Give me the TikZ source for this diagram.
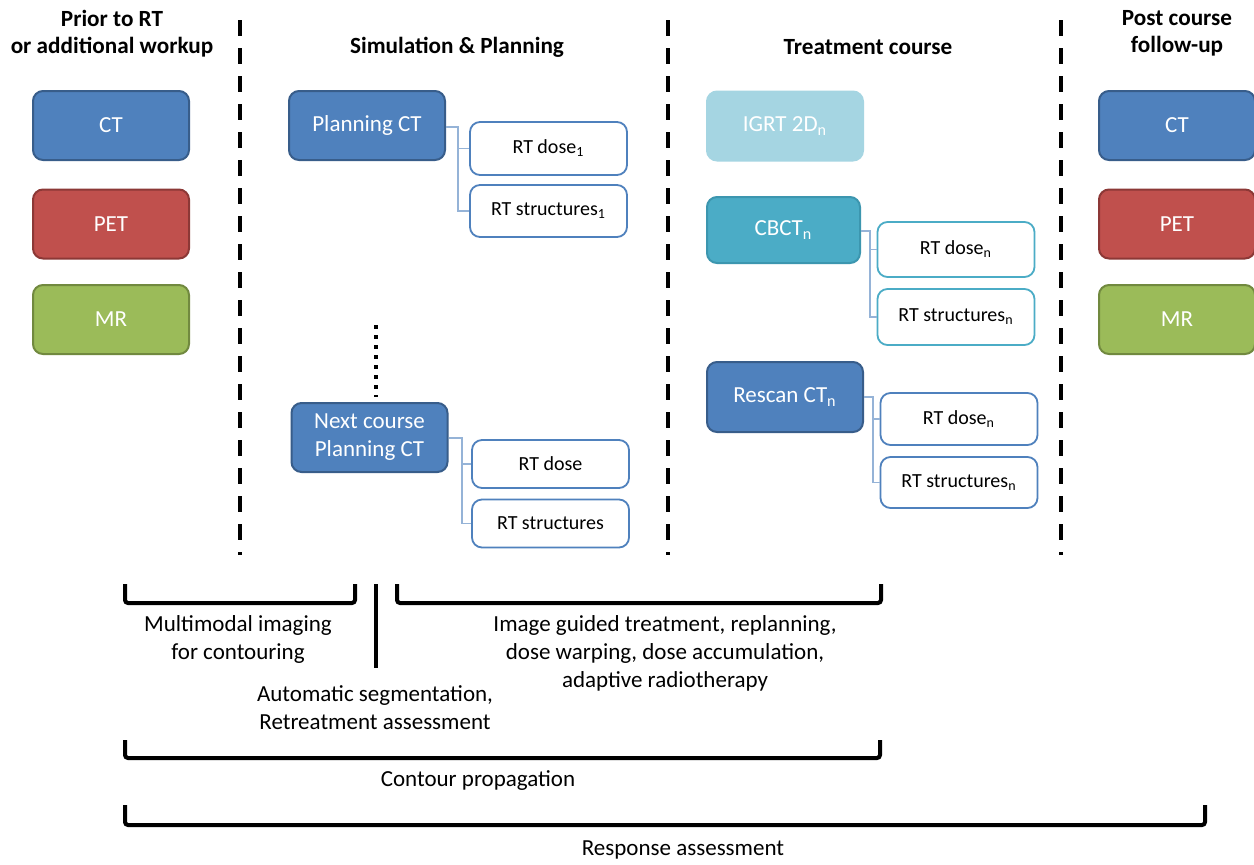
\documentclass[tikz,border=0pt]{standalone}
\usepackage{fontspec}
\setmainfont{Carlito}
\usetikzlibrary{calc}
\definecolor{cblue}{HTML}{4F81BD}
\definecolor{cblueD}{HTML}{385D8A}
\definecolor{cred}{HTML}{C0504D}
\definecolor{credD}{HTML}{8C3836}
\definecolor{cgreen}{HTML}{9BBB59}
\definecolor{cgreenD}{HTML}{71893F}
\definecolor{cltblue}{HTML}{A5D5E2}
\definecolor{cteal}{HTML}{4BACC6}
\definecolor{ctealD}{HTML}{3C96AF}
\definecolor{cconn}{HTML}{95B3D7}
\begin{document}
\begin{tikzpicture}[x=0.5pt,y=-0.5pt,
  txt/.style={font=\fontsize{11.5}{14}\selectfont, align=center, inner sep=0pt, yshift=-1pt},
  hdr/.style={font=\bfseries\fontsize{11.6}{13.5}\selectfont, align=center, inner sep=0pt, yshift=-1pt},
  cbox/.style={rounded corners=5pt, line width=1pt, text=white, minimum width=78pt, minimum height=34.5pt, align=center, inner sep=0pt, font=\fontsize{11.5}{14}\selectfont},
  bluebox/.style={cbox, fill=cblue, draw=cblueD},
  redbox/.style={cbox, fill=cred, draw=credD},
  greenbox/.style={cbox, fill=cgreen, draw=cgreenD},
  rtbox/.style={rounded corners=5pt, line width=0.9pt, draw=cblue, fill=white, minimum width=78.5pt, minimum height=26pt, inner sep=0pt, font=\fontsize{10}{12}\selectfont},
  rtboxt/.style={rtbox, draw=cteal},
  conn/.style={draw=cconn, line width=0.8pt},
  sep/.style={line width=2pt, dash pattern=on 8pt off 6pt},
  brk/.style={line width=2pt, rounded corners=1.5pt}
]
\useasboundingbox (0,0) rectangle (1254,864);
\fill[white] (0,0) rectangle (1254,864);

% headers
\node[hdr] (h1) at (112,31.5) {Prior to RT\\or additional workup};
\node[hdr] (h2) at (457,45) {Simulation \& Planning};
\node[hdr] (h3) at (868,45) {Treatment course};
\node[hdr] (h4) at (1177,31.5) {Post course\\follow-up};

% separators
\draw[sep] (240,20) -- (240,555);
\draw[sep] (668,20) -- (668,555);
\draw[sep] (1061,20) -- (1061,555);

% left column
\node[bluebox] (lct) at (111,125.5) {CT};
\node[redbox] (lpet) at (111,224) {PET};
\node[greenbox] (lmr) at (111,319.5) {MR};

% right column
\begin{scope}
\clip (0,0) rectangle (1254,864);
\node[bluebox, minimum width=78pt] (rct) at (1177,125.5) {CT};
\node[redbox, minimum width=78pt] (rpet) at (1177,224) {PET};
\node[greenbox, minimum width=78pt] (rmr) at (1177,319.5) {MR};
\end{scope}

% simulation & planning
\node[bluebox] (pct) at (367,125.5) {Planning CT};
\node[rtbox, minimum height=26.5pt] (rd1) at (548.5,148.5) {RT dose\textsubscript{1}};
\node[rtbox] (rs1) at (548.5,211) {RT structures\textsubscript{1}};
\coordinate (j1) at (458,127);
\draw[conn] (pct.east |- j1) -- (j1) |- (rd1.west);
\draw[conn] (j1) |- (rs1.west);

\node[bluebox] (nct) at (369.5,437.5) {Next course\\Planning CT};
\node[rtbox, minimum height=24pt] (rd2) at (550.5,464) {RT dose};
\node[rtbox, minimum height=24pt] (rs2) at (550.5,523.5) {RT structures};
\coordinate (j2) at (462,438);
\draw[conn] (nct.east |- j2) -- (j2) |- (rd2.west);
\draw[conn] (j2) |- (rs2.west);

\coordinate (d1) at (376,325);
\coordinate (d2) at (376,397);
\draw[line width=2pt, dash pattern=on 2pt off 3pt] (d1) -- (d2);

% treatment course
\node[cbox, fill=cltblue, draw=cltblue] (igrt) at (785,126) {IGRT 2D\textsubscript{n}};
\node[cbox, fill=cteal, draw=ctealD, minimum width=76.5pt, minimum height=33pt] (cbct) at (783.5,230) {CBCT\textsubscript{n}};
\node[rtboxt, minimum height=27.5pt] (rd3) at (956,249.5) {RT dose\textsubscript{n}};
\node[rtboxt, minimum height=28pt] (rs3) at (956,317) {RT structures\textsubscript{n}};
\coordinate (j3) at (870,231);
\draw[conn] (cbct.east |- j3) -- (j3) |- (rd3.west);
\draw[conn] (j3) |- (rs3.west);

\node[bluebox, minimum height=35pt] (rsc) at (785,397) {Rescan CT\textsubscript{n}};
\node[rtbox] (rd4) at (959,419) {RT dose\textsubscript{n}};
\node[rtbox, minimum height=25.5pt] (rs4) at (959,482.5) {RT structures\textsubscript{n}};
\coordinate (j4) at (873,397);
\draw[conn] (rsc.east |- j4) -- (j4) |- (rd4.west);
\draw[conn] (j4) |- (rs4.west);

% brackets
\draw[brk] (125,584) -- (125,603) -- (355,603) -- (355,584);
\draw[brk] (397,584) -- (397,603) -- (881,603) -- (881,584);
\draw[line width=2pt] (376,584) -- (376,668);
\draw[brk] (125,740) -- (125,758) -- (880,758) -- (880,740);
\draw[brk] (125,805) -- (125,825) -- (1205,825) -- (1205,805);

% bottom texts
\node[txt] (t1) at (238,637) {Multimodal imaging\\for contouring};
\node[txt] (t2) at (665,651) {Image guided treatment, replanning,\\dose warping, dose accumulation,\\adaptive radiotherapy};
\node[txt] (t3) at (375,705.5) {Automatic segmentation,\\Retreatment assessment};
\node[txt] (t4) at (478,779) {Contour propagation};
\node[txt] (t5) at (683,848) {Response assessment};
\end{tikzpicture}
\end{document}
